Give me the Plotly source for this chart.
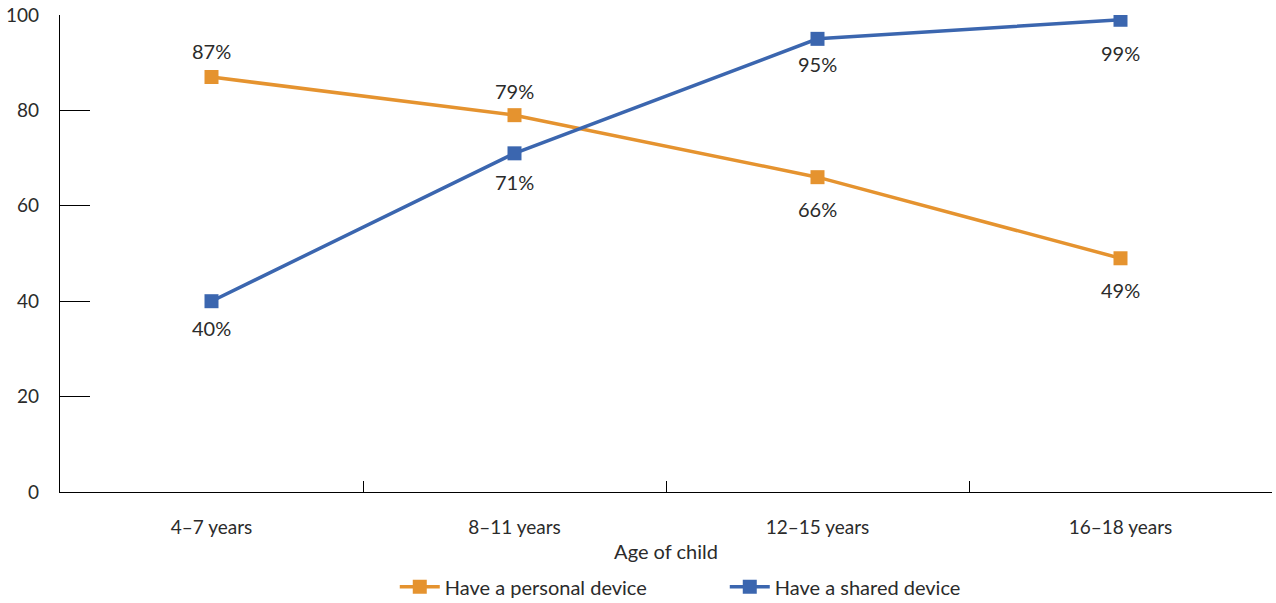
import plotly.graph_objects as go

ages = ["4\u20137 years", "8\u201311 years", "12\u201315 years", "16\u201318 years"]
personal = [87, 79, 66, 49]
shared = [40, 71, 95, 99]
personal_label_shift = [26, 24, -32, -32]
shared_label_shift = [-27, -29, -25, -33]

ORANGE = "#E5932F"
BLUE = "#3B66AF"
FONT = "Lato"
TEXT = "#2b2b2b"

fig = go.Figure()
fig.add_trace(go.Scatter(
    x=ages, y=personal, mode="lines+markers", name="Have a personal device",
    line=dict(color=ORANGE, width=3.5),
    marker=dict(symbol="square", size=14, color=ORANGE),
))
fig.add_trace(go.Scatter(
    x=ages, y=shared, mode="lines+markers", name="Have a shared device",
    line=dict(color=BLUE, width=3.5),
    marker=dict(symbol="square", size=14, color=BLUE),
))

for series, shifts in ((personal, personal_label_shift), (shared, shared_label_shift)):
    for cat, val, sh in zip(ages, series, shifts):
        fig.add_annotation(x=cat, y=val, text=f"{val}%", showarrow=False,
                           yshift=sh, font=dict(family=FONT, size=20, color=TEXT))

fig.update_layout(
    width=1276, height=603,
    margin=dict(l=60, r=4, t=15, b=111, autoexpand=False),
    plot_bgcolor="white", paper_bgcolor="white",
    font=dict(family=FONT, size=19, color=TEXT),
    showlegend=True,
    legend=dict(orientation="h", x=0.568, xanchor="center", xref="container",
                y=0.027, yanchor="middle", yref="container",
                entrywidth=275, itemwidth=40,
                font=dict(family=FONT, size=20, color=TEXT)),
    xaxis=dict(
        type="category", range=[-0.5, 3.5],
        showline=True, linecolor="black", linewidth=1.3,
        ticks="inside", tickson="boundaries", ticklen=11, tickcolor="black",
        showgrid=False, zeroline=False, ticklabelstandoff=18,
        title=dict(text="Age of child", font=dict(family=FONT, size=20, color=TEXT), standoff=8),
    ),
    yaxis=dict(
        range=[0, 100], tickvals=[0, 20, 40, 60, 80, 100],
        showline=True, linecolor="black", linewidth=1.3,
        ticks="inside", ticklen=30, tickcolor="black",
        showgrid=False, zeroline=False, ticklabelstandoff=16,
    ),
)

fig.write_html("out.html")
